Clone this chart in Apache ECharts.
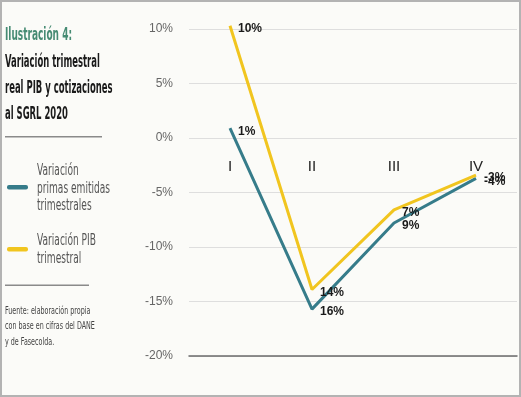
<!DOCTYPE html>
<html>
<head>
<meta charset="utf-8">
<script src="https://cdn.jsdelivr.net/npm/echarts@6/dist/echarts.min.js"></script>
<style>
  html, body { margin: 0; padding: 0; background: #fff; }
  #chart { width: 521px; height: 397px; background: #fbfbf8; }
</style>
</head>
<body>
<div id="chart"></div>
<script>
const quarters = ['I', 'II', 'III', 'IV'];
const pibValues = [10.3, -13.9, -6.6, -3.4];
const primasValues = [0.9, -15.7, -7.8, -3.7];
const pibLabels = ['10%', '14%', '7%', '-3%'];
const primasLabels = ['1%', '16%', '9%', '-4%'];

const FONT = '"DejaVu Sans"';
const AXIS_FONT = '"Liberation Sans", sans-serif';
const TEAL = '#367c8a';
const YELLOW = '#f1c51f';

let chart = echarts.init(document.getElementById('chart'));

// narrow text block on the left, squeezed horizontally to look condensed
function textBlock(x, top, text, font, fill, lineHeight, sx) {
    return {
        type: 'text', x: x, y: top, scaleX: sx, silent: true,
        style: { text: text, font: font, fill: fill, lineHeight: lineHeight, verticalAlign: 'top' }
    };
}

let labelStyle = {
    show: true, position: 'right', distance: 3, offset: [4, 3],
    fontWeight: 'bold', fontSize: 12, color: '#1a1a1a', fontFamily: AXIS_FONT
};

let option = {
    animation: false,
    grid: { left: 189, right: 4, top: 29, bottom: 41 },
    xAxis: {
        type: 'category',
        data: quarters,
        boundaryGap: true,
        axisLine: { show: true, onZero: false, lineStyle: { color: '#6b6b6b', width: 1.5 } },
        axisTick: { show: false },
        axisLabel: { margin: -197, fontSize: 15, color: '#222', fontFamily: AXIS_FONT }
    },
    yAxis: {
        type: 'value',
        min: -20,
        max: 10,
        interval: 5,
        axisLine: { show: false },
        axisTick: { show: false },
        splitLine: { lineStyle: { color: '#dedede', width: 1 } },
        axisLabel: { formatter: '{value}%', margin: 16, fontSize: 12, color: '#666', fontFamily: AXIS_FONT }
    },
    series: [
        {
            name: 'Variación PIB trimestral',
            type: 'line',
            data: pibValues,
            clip: false,
            symbol: 'circle',
            symbolSize: 2,
            lineStyle: { color: YELLOW, width: 3 },
            itemStyle: { color: 'rgba(0,0,0,0)' },
            label: Object.assign({}, labelStyle, { formatter: p => pibLabels[p.dataIndex] }),
            z: 3
        },
        {
            name: 'Variación primas emitidas trimestrales',
            type: 'line',
            data: primasValues,
            clip: false,
            symbol: 'circle',
            symbolSize: 2,
            lineStyle: { color: TEAL, width: 3 },
            itemStyle: { color: 'rgba(0,0,0,0)' },
            label: Object.assign({}, labelStyle, { formatter: p => primasLabels[p.dataIndex] }),
            z: 2
        }
    ],
    graphic: [
        { type: 'rect', silent: true, shape: { x: 1, y: 1, width: 519, height: 395 }, style: { fill: 'none', stroke: '#b3b3b3', lineWidth: 2 } },
        textBlock(5, 22, 'Ilustración 4:', 'bold 18px ' + FONT, '#468b73', 26, 0.5),
        textBlock(5, 49, 'Variación trimestral\nreal PIB y cotizaciones\nal SGRL 2020', 'bold 18px ' + FONT, '#1a1a1a', 26, 0.47),
        { type: 'rect', silent: true, shape: { x: 5, y: 136, width: 97, height: 1.5 }, style: { fill: '#8a8a8a' } },
        { type: 'rect', silent: true, shape: { x: 7, y: 185, width: 21, height: 4.5, r: 2 }, style: { fill: TEAL } },
        textBlock(37, 162, 'Variación\nprimas emitidas\ntrimestrales', '16.5px ' + FONT, '#555', 17.5, 0.55),
        { type: 'rect', silent: true, shape: { x: 7, y: 247, width: 21, height: 4.5, r: 2 }, style: { fill: YELLOW } },
        textBlock(37, 231.5, 'Variación PIB\ntrimestral', '16.5px ' + FONT, '#555', 18, 0.55),
        { type: 'rect', silent: true, shape: { x: 5, y: 284.5, width: 84, height: 1.5 }, style: { fill: '#8a8a8a' } },
        textBlock(5, 303, 'Fuente: elaboración propia\ncon base en cifras del DANE\ny de Fasecolda.', '11px ' + FONT, '#444', 15.5, 0.58)
    ]
};

chart.setOption(option);
</script>
</body>
</html>
